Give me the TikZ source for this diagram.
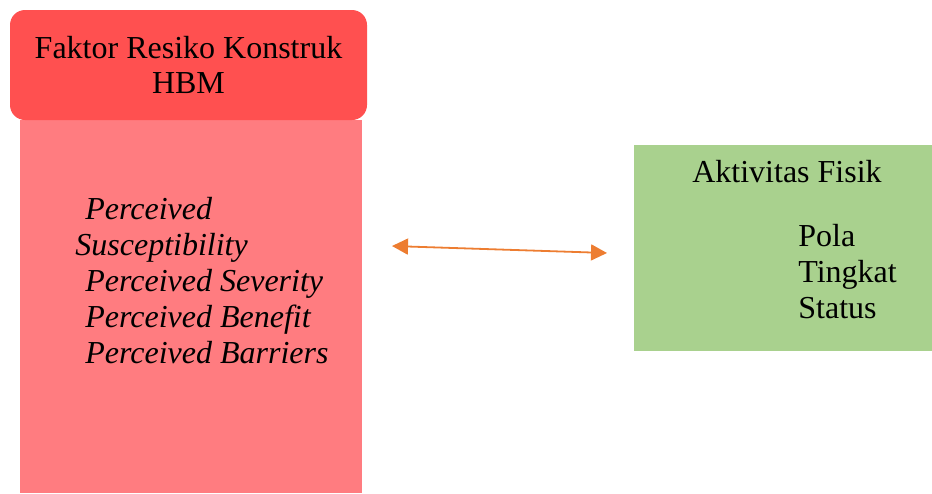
\documentclass[tikz,border=0pt]{standalone}
\usepackage{fontspec}
\setmainfont{Liberation Serif}
\definecolor{HeadRed}{RGB}{255, 80, 80}
\definecolor{BodyPink}{RGB}{255, 124, 128}
\definecolor{ActGreen}{RGB}{169, 209, 142}
\definecolor{LinkOrange}{RGB}{237, 125, 49}
\usetikzlibrary{arrows.meta, positioning}

\begin{document}
\begin{tikzpicture}[x=0.5pt, y=-0.5pt,
  txt/.style={font=\fontsize{16}{18}\selectfont, inner sep=0pt, text=black},
  head/.style={fill=HeadRed, rounded corners=7.5pt, minimum width=178.5pt, minimum height=55pt, inner sep=0pt, align=center, font=\fontsize{16}{17.5}\selectfont},
  body/.style={fill=BodyPink, minimum width=171pt, minimum height=186.5pt, inner sep=0pt},
  act/.style={fill=ActGreen, minimum width=149pt, minimum height=103pt, inner sep=0pt},
  link/.style={{Triangle[length=8pt, width=8pt]}-{Triangle[length=8pt, width=8pt]}, LinkOrange, line width=0.9pt}]
\useasboundingbox (0,0) rectangle (932,493);
\node[body] (hbmbody) at (191,306.5) {};
\node[head] (hbmhead) at (188.5,65) {Faktor Resiko Konstruk\\HBM};
\node[txt, anchor=base west, align=left] (risks) at (75,363)
  {\hspace*{5pt}\itshape Perceived\\\itshape Susceptibility\\\hspace*{5pt}\itshape Perceived Severity\\\hspace*{5pt}\itshape Perceived Benefit\\\hspace*{5pt}\itshape Perceived Barriers};
\node[act] (fisik) at (783,248) {};
\node[txt, anchor=base] (fisiktitle) at (787,182) {Aktivitas Fisik};
\node[txt, anchor=base west, align=left] (fisikitems) at (798,318) {Pola\\Tingkat\\Status};
\coordinate (linkL) at (392,246);
\coordinate (linkR) at (607,253);
\draw[link] (linkL) -- (linkR);
\end{tikzpicture}
\end{document}
